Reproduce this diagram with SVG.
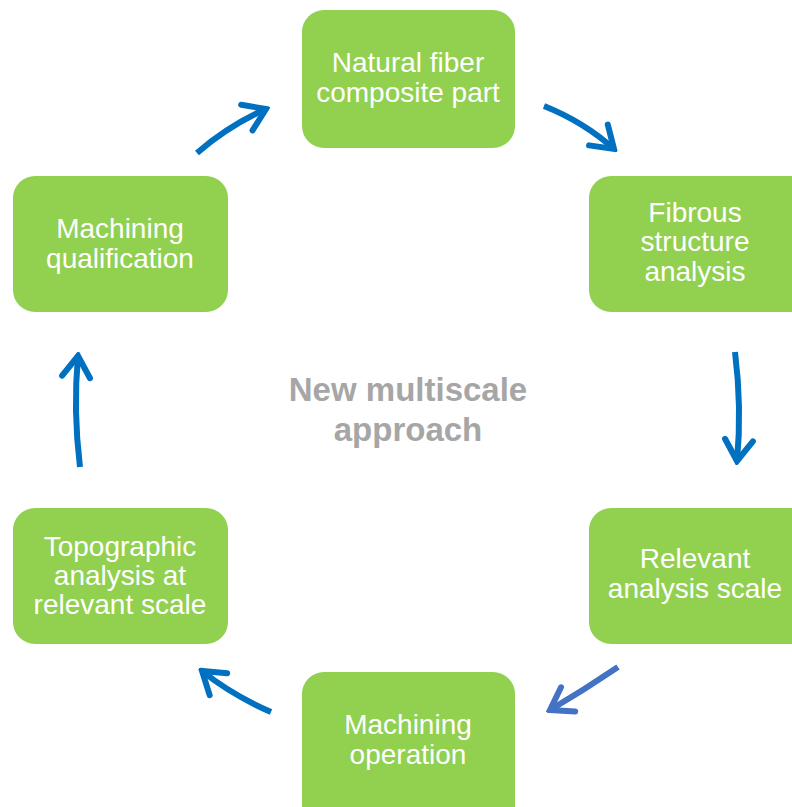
<svg xmlns="http://www.w3.org/2000/svg" width="792" height="807" viewBox="0 0 792 807">
<style>
.box{fill:#92D050;}
.t{font-family:"Liberation Sans",Arial,sans-serif;font-size:28px;fill:#FFFFFF;text-anchor:middle;}
.c{font-family:"Liberation Sans",Arial,sans-serif;font-size:33px;font-weight:bold;fill:#A6A6A6;text-anchor:middle;}
.a{fill:none;stroke:#0070C0;stroke-width:6;}
</style>
<defs>
<marker id="ah" markerUnits="userSpaceOnUse" viewBox="-30 -20 34 40" refX="0" refY="0" markerWidth="34" markerHeight="40" orient="auto">
<path d="M-21,-14 L0,0 L-21,14" fill="none" stroke="#0070C0" stroke-width="6" stroke-linecap="round" stroke-linejoin="miter"/>
</marker>
<marker id="ah2" markerUnits="userSpaceOnUse" viewBox="-30 -20 34 40" refX="0" refY="0" markerWidth="34" markerHeight="40" orient="auto">
<path d="M-21,-14 L0,0 L-21,14" fill="none" stroke="#4472C4" stroke-width="6" stroke-linecap="round" stroke-linejoin="miter"/>
</marker>
</defs>
<rect width="792" height="807" fill="#FFFFFF"/>
<g id="connectors">
<path class="a" d="M197,153 Q228,126 266,109" marker-end="url(#ah)"/>
<path class="a" d="M544,106 Q584,122 614,149" marker-end="url(#ah)"/>
<path class="a" d="M735,352 Q742,408 737,461" marker-end="url(#ah)"/>
<path d="M618,667 Q584,690 550,710" fill="none" stroke="#4472C4" stroke-width="6" marker-end="url(#ah2)"/>
<path class="a" d="M271,712 Q232,695 202,671" marker-end="url(#ah)"/>
<path class="a" d="M80,467 Q73,410 78,356" marker-end="url(#ah)"/>
</g>
<g id="n1"><rect class="box" x="302" y="10" width="213" height="138" rx="22"/>
<text class="t" x="408" y="72">Natural fiber</text><text class="t" x="408" y="102">composite part</text></g>
<g id="n2"><rect class="box" x="589" y="176" width="230" height="136" rx="22"/>
<text class="t" x="695" y="222">Fibrous</text><text class="t" x="695" y="251">structure</text><text class="t" x="695" y="281">analysis</text></g>
<g id="n3"><rect class="box" x="589" y="508" width="230" height="136" rx="22"/>
<text class="t" x="695" y="568">Relevant</text><text class="t" x="695" y="598">analysis scale</text></g>
<g id="n4"><rect class="box" x="302" y="672" width="213" height="160" rx="22"/>
<text class="t" x="408" y="734">Machining</text><text class="t" x="408" y="764">operation</text></g>
<g id="n5"><rect class="box" x="13" y="508" width="215" height="136" rx="22"/>
<text class="t" x="120" y="556">Topographic</text><text class="t" x="120" y="585">analysis at</text><text class="t" x="120" y="614">relevant scale</text></g>
<g id="n6"><rect class="box" x="13" y="176" width="215" height="136" rx="22"/>
<text class="t" x="120" y="238">Machining</text><text class="t" x="120" y="268">qualification</text></g>
<g id="center"><text class="c" x="408" y="401">New multiscale</text><text class="c" x="408" y="441">approach</text></g>
</svg>
